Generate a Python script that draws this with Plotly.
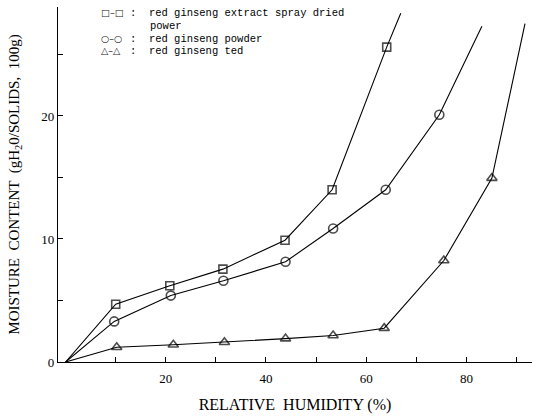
import plotly.graph_objects as go

# Relative humidity (%) vs. moisture content (g H2O / 100 g solids)
rh_extract = [0, 10, 20.8, 31.4, 43.8, 53.2, 64.1, 66.9]
mc_extract = [0, 4.7, 6.2, 7.55, 9.9, 14.0, 25.6, 28.35]

rh_powder = [0, 9.7, 21.0, 31.5, 43.9, 53.4, 63.9, 74.6, 83.1]
mc_powder = [0, 3.3, 5.4, 6.6, 8.15, 10.85, 14.0, 20.1, 27.3]

rh_ted = [0, 10.2, 21.5, 31.7, 43.9, 53.4, 63.6, 75.5, 85.1, 91.7]
mc_ted = [0, 1.2, 1.4, 1.6, 1.9, 2.15, 2.75, 8.25, 14.95, 27.5]

x_tick_vals = [10, 20, 30, 40, 50, 60, 70, 80, 90]
x_tick_text = ["", "20", "", "40", "", "60", "", "80", ""]
y_tick_vals = [0, 5, 10, 15, 20, 25]
y_tick_text = ["0", "", "10", "", "20", ""]

legend_rows = [
    ("\u25a1\u2013\u25a1", ":  red ginseng extract spray dried"),
    ("\u25cb\u2013\u25cb", ":  red ginseng powder"),
    ("\u25b3\u2013\u25b3", ":  red ginseng ted"),
]
legend_extra = "power"

W, H = 538, 417
L, R, T, B = 58, 6, 7, 53
pw, ph = W - L - R, H - T - B


def px(x):
    return (x - L) / pw


def py(y):
    return (H - B - y) / ph


fig = go.Figure()
# marker size 0 on the origin and on the trailing line end
series = [
    (rh_extract, mc_extract, "square-open", [0, 8, 8, 8, 8, 8, 8, 0]),
    (rh_powder, mc_powder, "circle-open", [0, 9, 9, 9, 9, 9, 9, 9, 0]),
    (rh_ted, mc_ted, "triangle-up-open", [0, 9, 9, 9, 9, 9, 9, 9, 9, 0]),
]
for xs, ys, sym, sz in series:
    fig.add_trace(go.Scatter(
        x=xs, y=ys, mode="lines+markers",
        line=dict(color="black", width=1.1),
        marker=dict(symbol=sym, size=sz, color="black",
                    line=dict(color="black", width=1.6)),
        showlegend=False, cliponaxis=False,
    ))

mono = "Liberation Mono"
ann = []
row_y = [13, 39, 51]
for (sym, txt), yy in zip(legend_rows, row_y):
    ann.append(dict(x=px(99), y=py(yy), xref="paper", yref="paper",
                    text=sym, showarrow=False, xanchor="left", yanchor="middle",
                    font=dict(family="DejaVu Sans", size=9.5, color="#222")))
    ann.append(dict(x=px(128), y=py(yy), xref="paper", yref="paper",
                    text=txt, showarrow=False, xanchor="left", yanchor="middle",
                    font=dict(family=mono, size=10.5, color="black")))
ann.append(dict(x=px(148), y=py(26), xref="paper", yref="paper",
                text=legend_extra, showarrow=False, xanchor="left", yanchor="middle",
                font=dict(family=mono, size=10.5, color="black")))

fig.update_layout(
    width=W, height=H,
    margin=dict(l=L, r=R, t=T, b=B, pad=0),
    paper_bgcolor="white", plot_bgcolor="white",
    font=dict(family="Liberation Serif", color="black"),
    annotations=ann,
    xaxis=dict(
        range=[-1.52, 93.1], showgrid=False, zeroline=False,
        showline=True, linecolor="black", linewidth=1.3,
        ticks="inside", ticklen=5, tickwidth=1.2, tickcolor="black",
        tickvals=x_tick_vals, ticktext=x_tick_text, ticklabelstandoff=4,
        tickfont=dict(family="Liberation Serif", size=13),
        title=dict(text="RELATIVE  HUMIDITY (%)", standoff=14,
                   font=dict(family="Liberation Serif", size=16)),
    ),
    yaxis=dict(
        range=[0, 28.86], showgrid=False, zeroline=False,
        showline=True, linecolor="black", linewidth=1.3,
        ticks="inside", ticklen=5, tickwidth=1.2, tickcolor="black",
        tickvals=y_tick_vals, ticktext=y_tick_text,
        tickfont=dict(family="Liberation Serif", size=13),
        title=dict(text="MOISTURE  CONTENT  (gH<sub>2</sub>0/SOLIDS,  100g)", standoff=18,
                   font=dict(family="Liberation Serif", size=15)),
    ),
)

fig.write_html("out.html")
